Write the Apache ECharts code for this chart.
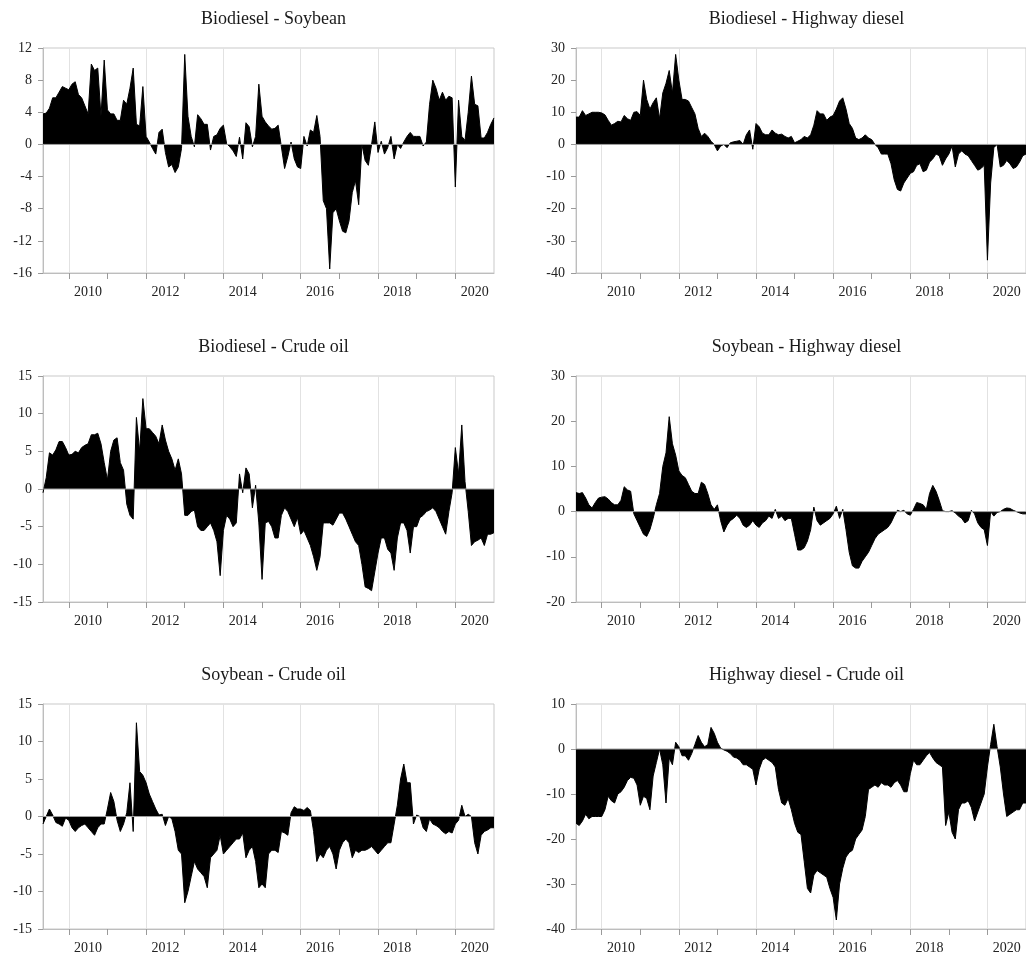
<!DOCTYPE html>
<html>
<head>
<meta charset="utf-8">
<script src="https://cdn.jsdelivr.net/npm/echarts@6/dist/echarts.min.js"></script>
<style>
  html, body { margin: 0; padding: 0; background: #fff; }
  #chart { width: 1026px; height: 956px; }
</style>
</head>
<body>
<div id="chart"></div>
<script>
// Monthly observations, May 2009 through January 2021
const startYear = 2009;
const startMonth = 5;
const xMin = 2009 + 4 / 12;
const xMax = 2021;

const tickYears = [2010, 2011, 2012, 2013, 2014, 2015, 2016, 2017, 2018, 2019, 2020];
const labelYears = [2010, 2012, 2014, 2016, 2018, 2020];

const panelTitles = [
  'Biodiesel - Soybean',
  'Biodiesel - Highway diesel',
  'Biodiesel - Crude oil',
  'Soybean - Highway diesel',
  'Soybean - Crude oil',
  'Highway diesel - Crude oil'
];

const biodieselSoybean = [
  3.8, 3.9, 4.5, 5.8, 5.8, 6.5, 7.2, 7.0, 6.8, 7.5,
  7.8, 6.2, 5.8, 4.8, 3.8, 10.0, 9.2, 9.5, 3.5, 10.5,
  4.3, 3.8, 3.8, 3.0, 3.0, 5.5, 5.0, 7.0, 9.5, 2.5,
  2.3, 7.2, 1.0, 0.3, -0.5, -1.2, 1.5, 1.9, -1.0, -2.8,
  -2.5, -3.5, -2.8, -0.5, 11.2, 3.5, 1.0, -0.3, 3.7, 3.2,
  2.5, 2.5, -0.7, 1.0, 1.2, 2.0, 2.4, 0.1, -0.3, -0.8,
  -1.5, 0.9, -1.8, 2.7, 2.2, -0.3, 1.0, 7.5, 3.5, 2.8,
  2.3, 1.9, 2.0, 2.4, -0.3, -3.0, -1.5, 0.3, -1.8, -2.8,
  -3.0, 1.0, -0.2, 1.8, 1.5, 3.6, 1.0, -7.0, -8.0, -15.5,
  -8.5, -8.0, -9.5, -10.8, -11.0, -9.5, -6.0, -4.5, -7.5, 0.0,
  -2.0, -2.6, 0.0, 2.8, -1.0, 0.4, -1.2, -0.4, 1.0, -1.8,
  0.0, -0.5, 0.3, 1.0, 1.5, 1.0, 1.0, 1.0, -0.2, 0.3,
  5.0, 8.0, 7.0, 5.5, 6.5, 5.5, 6.0, 5.8, -5.3, 5.5,
  1.0, 0.5, 4.0, 8.5, 5.0, 4.8, 0.8, 0.8, 1.5, 2.5,
  3.3
];

const biodieselHighwayDiesel = [
  8.5, 8.5, 10.5, 9.0, 9.5, 10.0, 10.0, 10.0, 9.8, 9.2,
  7.5, 6.0, 6.5, 7.2, 7.0, 9.0, 8.0, 7.5, 10.0, 10.2,
  9.0, 20.0, 14.0, 11.0, 13.0, 14.5, 8.0, 16.0, 19.0, 23.0,
  16.0, 28.0, 20.0, 14.0, 14.0, 13.5, 11.5, 9.5, 5.0, 2.5,
  3.5, 2.5, 1.0, 0.0, -2.0, -0.5, 0.0, -1.0, 0.5, 0.8,
  1.0, 1.2, 0.0, 3.0, 4.5, -1.5, 6.5, 5.5, 3.5, 3.0,
  3.0, 4.5, 3.5, 3.0, 3.2, 2.5, 2.0, 2.5, 0.5, 1.0,
  1.5, 2.5, 2.0, 3.0, 6.0, 10.5, 9.5, 9.5, 7.5, 8.5,
  9.0, 11.0, 13.5, 14.5, 11.0, 6.5, 5.0, 2.0, 1.5, 2.0,
  3.0, 2.0, 1.5, 0.0, -1.0, -3.0, -3.0, -3.0, -6.0, -11.0,
  -14.0, -14.5, -12.0, -10.5, -9.0, -8.5, -6.5, -6.0, -8.5, -8.0,
  -5.5, -4.5, -3.0, -3.5, -6.5, -4.5, -3.0, -0.5, -7.0, -3.0,
  -2.0, -3.0, -3.5, -5.0, -6.5, -8.0, -7.5, -6.5, -36.0, -12.0,
  -1.0, 0.0, -7.0, -6.5, -5.0, -6.0, -7.5, -7.0, -5.5, -3.5,
  -3.0
];

const biodieselCrudeOil = [
  -0.5, 1.5, 4.8, 4.5, 5.2, 6.3, 6.3, 5.5, 4.5, 4.6,
  5.0, 4.8, 5.5, 5.8, 6.0, 7.2, 7.2, 7.4, 6.0, 3.5,
  1.2, 5.0, 6.5, 6.8, 3.5, 2.5, -2.0, -3.5, -4.0, 9.5,
  5.0, 12.0, 8.0, 8.0, 7.5, 7.0, 6.0, 8.5, 6.5, 5.0,
  4.0, 2.5, 4.0, 2.0, -3.5, -3.5, -3.0, -2.8, -5.0, -5.5,
  -5.5, -5.0, -4.5, -5.5, -7.0, -11.5, -5.5, -3.5, -4.0, -5.0,
  -4.5, 2.0, -0.5, 2.8, 2.0, -2.5, 0.5, -4.5, -12.0, -4.5,
  -4.3, -5.0, -6.5, -6.5, -3.5, -2.5, -3.0, -4.0, -5.0, -3.8,
  -6.0, -5.5, -6.5, -7.5, -9.0, -10.8, -9.0, -4.5, -4.5, -4.5,
  -4.8, -4.0, -3.2, -3.2, -4.0, -5.0, -6.0, -7.0, -7.5, -10.0,
  -13.0, -13.2, -13.5, -11.0, -8.5, -6.5, -6.5, -8.0, -8.5, -10.8,
  -6.5, -4.5, -4.5, -5.5, -8.5, -5.0, -5.0, -3.8, -3.5, -3.0,
  -2.8, -2.5, -3.0, -4.0, -5.0, -6.0, -3.0, -0.5, 5.5, 2.0,
  8.5, 1.0, -3.0, -7.5, -7.0, -6.8, -6.5, -7.5, -6.0, -6.0,
  -5.8
];

const soybeanHighwayDiesel = [
  4.2, 4.0, 4.2, 3.0, 1.5, 0.8, 2.0, 3.0, 3.2, 3.3,
  2.8, 2.0, 1.5, 1.5, 2.5, 5.5, 4.8, 4.5, -0.5, -2.0,
  -3.5, -5.0, -5.5, -4.0, -1.5, 1.5, 4.0, 10.0, 13.0, 21.0,
  15.0, 12.5, 9.0, 8.0, 7.5, 6.0, 4.5, 4.0, 4.0, 6.5,
  6.0, 4.0, 1.5, 0.5, 1.5, -2.0, -4.5, -3.0, -2.0, -1.5,
  -0.8, -1.5, -3.0, -3.5, -3.0, -2.0, -3.0, -3.5, -2.5, -2.0,
  -1.0, -1.5, 0.5, -1.5, -1.0, -2.0, -1.5, -1.5, -5.0, -8.5,
  -8.5, -8.0, -6.5, -4.0, 1.0, -2.0, -3.0, -2.5, -2.0, -1.5,
  -0.5, 1.2, -1.5, 0.5, -4.0, -9.0, -12.0, -12.5, -12.5, -11.0,
  -10.0, -9.0, -7.5, -6.0, -5.0, -4.5, -4.0, -3.5, -2.5, -1.0,
  0.3, 0.0, 0.3, -0.5, -0.8, 0.5, 2.0, 1.8, 1.5, 0.5,
  4.0, 5.8, 4.5, 2.5, 0.2, 0.0, 0.0, 0.2, -0.3, -1.0,
  -1.5, -2.5, -2.0, 0.3, -0.5, -2.5, -3.5, -4.0, -7.5, 0.0,
  -1.0, -0.2, 0.0, 0.5, 0.8, 0.7, 0.3, 0.0, -0.3, -0.5,
  -0.5
];

const soybeanCrudeOil = [
  -1.0, 0.0, 1.0, 0.2, -0.8, -1.0, -1.3, -0.2, -0.5, -1.5,
  -2.0, -1.5, -1.2, -1.0, -1.5, -2.0, -2.5, -1.5, -1.0, -1.0,
  1.0, 3.2, 2.0, -0.5, -2.0, -1.0, 0.5, 4.5, -2.0, 12.5,
  6.0, 5.5, 4.5, 3.0, 2.0, 1.0, 0.2, 0.3, -1.2, 0.0,
  -0.3, -2.0, -4.5, -5.0, -11.5, -10.0, -8.0, -6.0, -7.0, -7.5,
  -8.0, -9.5, -5.5, -5.0, -4.5, -2.5, -5.0, -4.5, -4.0, -3.5,
  -3.0, -3.0, -2.2, -5.5, -4.5, -4.0, -6.0, -9.5, -9.0, -9.5,
  -5.0, -4.5, -4.5, -4.8, -2.0, -2.2, -2.5, 0.5, 1.3, 1.0,
  1.0, 0.8, 1.2, 0.8, -2.0, -6.0, -5.0, -5.5, -4.5, -4.0,
  -5.0, -7.0, -4.5, -3.5, -3.0, -3.5, -5.5, -4.5, -4.8, -4.5,
  -4.5, -4.3, -4.0, -4.5, -5.0, -4.5, -4.0, -3.5, -3.5, -1.0,
  1.5, 5.0, 7.0, 4.5, 4.5, -1.0, 0.2, 0.0, -1.5, -2.0,
  -0.3, -1.0, -1.2, -1.5, -2.0, -2.3, -2.0, -2.2, -1.0, -0.5,
  1.5, 0.0, 0.3, 0.0, -3.5, -5.0, -2.5, -2.0, -1.8, -1.5,
  -1.5
];

const highwayDieselCrudeOil = [
  -16.5, -17.0, -16.0, -14.5, -15.5, -15.0, -15.0, -15.0, -15.0, -13.5,
  -10.5, -11.5, -12.0, -10.0, -9.5, -8.5, -7.0, -6.3, -6.5, -8.0,
  -12.5, -10.5, -11.0, -13.5, -6.0, -3.0, 0.0, -3.5, -12.0, -2.0,
  -3.5, 1.5, 0.5, -1.5, -1.5, -2.5, -1.0, 1.0, 3.0, 1.5,
  0.5, 1.0, 4.8, 3.5, 1.5, 0.2, -0.2, -0.5, -1.0, -1.8,
  -2.0, -2.5, -3.5, -3.5, -4.0, -4.5, -8.0, -4.5, -2.5, -2.0,
  -2.5, -3.0, -4.0, -9.0, -12.0, -12.5, -11.0, -13.5, -16.5, -18.5,
  -19.0, -25.0, -31.0, -32.0, -28.0, -27.0, -27.5, -28.0, -28.5, -31.0,
  -33.0, -38.0, -30.0, -26.5, -24.0, -23.0, -22.5, -20.0, -19.0, -18.0,
  -15.0, -9.0, -8.5, -8.0, -8.5, -7.5, -8.0, -8.0, -8.5, -7.5,
  -7.0, -8.0, -9.5, -9.5, -5.5, -2.5, -3.5, -3.5, -2.5, -1.5,
  -0.8, -2.0, -3.0, -3.5, -4.0, -17.0, -14.0, -18.5, -20.0, -13.5,
  -12.0, -12.0, -11.5, -13.0, -16.0, -14.0, -12.0, -10.0, -4.0, 1.0,
  5.5, 0.5, -4.0, -10.0, -15.0, -14.5, -14.0, -13.5, -13.5, -12.0,
  -12.0
];

const panelSeries = [
  biodieselSoybean, biodieselHighwayDiesel,
  biodieselCrudeOil, soybeanHighwayDiesel,
  soybeanCrudeOil, highwayDieselCrudeOil
];

// value-axis ranges for each panel: [min, max, interval]
const yRanges = [
  [-16, 12, 4], [-40, 30, 10],
  [-15, 15, 5], [-20, 30, 10],
  [-15, 15, 5], [-40, 10, 10]
];

// plot rectangles, row by row
const colLeft = [43, 576];
const rowTop = [48, 376, 704];
const rowHeight = [225, 226, 225];
const plotWidth = 451;

const serif = '"Liberation Serif", "Times New Roman", serif';

function monthToYear(i) {
  const m = startMonth - 1 + i;
  return startYear + m / 12;
}

const grids = [], xAxes = [], yAxes = [], series = [], titles = [];

panelSeries.forEach((values, k) => {
  const col = k % 2, row = Math.floor(k / 2);
  const left = colLeft[col], top = rowTop[row], height = rowHeight[row];

  grids.push({
    left: left, top: top, width: plotWidth, height: height,
    show: true, borderColor: '#c9c9c9', borderWidth: 1, backgroundColor: '#fff'
  });

  titles.push({
    text: panelTitles[k],
    left: left + plotWidth / 2,
    top: top - 43,
    textAlign: 'center',
    textStyle: { fontFamily: serif, fontSize: 18, fontWeight: 'normal', color: '#1a1a1a' }
  });

  // visible time axis: ticks every year, labels centred on even years
  xAxes.push({
    type: 'value', gridIndex: k, min: xMin, max: xMax,
    axisLine: { show: true, onZero: false, lineStyle: { color: '#bdbdbd' } },
    axisTick: { show: true, customValues: tickYears, length: 6, lineStyle: { color: '#9a9a9a' } },
    axisLabel: {
      show: true,
      customValues: labelYears.map(y => y + 0.5),
      formatter: v => String(Math.floor(v)),
      fontFamily: serif, fontSize: 14, color: '#222', margin: 12
    },
    splitLine: { show: false }
  });
  // companion axis carrying the vertical grid lines at even years
  xAxes.push({
    type: 'value', gridIndex: k, min: xMin, max: xMax, position: 'top',
    axisLine: { show: false },
    axisTick: { show: false, customValues: labelYears },
    axisLabel: { show: false },
    splitLine: { show: true, lineStyle: { color: '#e2e2e2', width: 1 } }
  });

  const [yMin, yMax, yStep] = yRanges[k];
  yAxes.push({
    type: 'value', gridIndex: k, min: yMin, max: yMax, interval: yStep,
    axisLine: { show: true, lineStyle: { color: '#bdbdbd' } },
    axisTick: { show: true, length: 5, lineStyle: { color: '#9a9a9a' } },
    axisLabel: { fontFamily: serif, fontSize: 14, color: '#222', margin: 11 },
    splitLine: { show: false }
  });

  series.push({
    type: 'line',
    xAxisIndex: 2 * k, yAxisIndex: k,
    data: values.map((v, i) => [monthToYear(i), v]),
    symbol: 'none', showSymbol: false,
    lineStyle: { color: '#000', width: 1 },
    areaStyle: { color: '#000', opacity: 1 },
    z: 2, silent: true
  });

  // zero reference line across the panel
  series.push({
    type: 'line',
    xAxisIndex: 2 * k, yAxisIndex: k,
    data: [[xMin, 0], [xMax, 0]],
    symbol: 'none', showSymbol: false,
    lineStyle: { color: '#a0a0a0', width: 1 },
    z: 3, silent: true
  });
});

const chart = echarts.init(document.getElementById('chart'), null, { renderer: 'canvas' });
chart.setOption({
  animation: false,
  backgroundColor: '#fff',
  title: titles,
  grid: grids,
  xAxis: xAxes,
  yAxis: yAxes,
  series: series
});
</script>
</body>
</html>
